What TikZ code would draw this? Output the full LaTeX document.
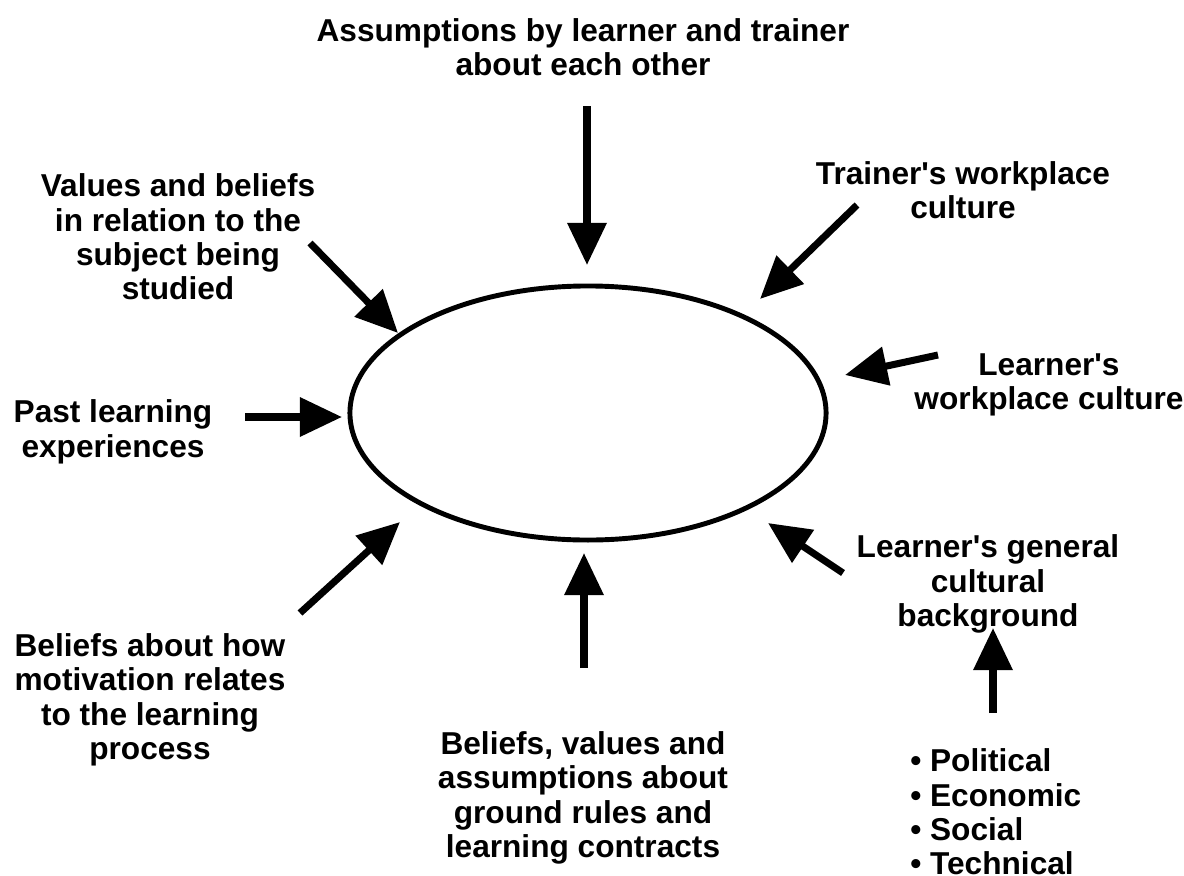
\documentclass[tikz,border=0pt]{standalone}
\usepackage{fontspec}
\setmainfont{Liberation Sans}
\usetikzlibrary{arrows.meta,shapes.geometric}

\begin{document}
\begin{tikzpicture}[x=0.025cm,y=-0.025cm,
  label text/.style={font=\bfseries\fontsize{22.5pt}{24.5pt}\selectfont, align=center, inner sep=0pt},
  push/.style={line width=5pt, -{Triangle[length=30pt,width=27pt]}},
  every node/.style={inner sep=0pt}]
\useasboundingbox (0,0) rectangle (1184,875);
\node[draw, ellipse, line width=3.5pt, minimum width=11.9cm, minimum height=6.35cm] (centre) at (588,413) {};
% the influences round the ellipse
\node[label text] (assume) at (583,47) {Assumptions by learner and trainer\\about each other};
\node[label text] (values) at (178,237) {Values and beliefs\\in relation to the\\subject being\\studied};
\node[label text] (trainer) at (963,190) {Trainer\textquotesingle s workplace\\culture};
\node[label text] (learnerwp) at (1049,385) {Learner\textquotesingle s\\workplace culture};
\node[label text] (past) at (113,432) {Past learning\\experiences};
\node[label text] (motivation) at (150,700) {Beliefs about how\\motivation relates\\to the learning\\process};
\node[label text] (ground) at (583,798) {Beliefs, values and\\assumptions about\\ground rules and\\learning contracts};
\node[label text] (general) at (988,584) {Learner\textquotesingle s general\\cultural\\background};
\node[label text, align=left, anchor=west] (factors) at (910,812) {\textbullet\ Political\\\textbullet\ Economic\\\textbullet\ Social\\\textbullet\ Technical};
% arrow ends
\coordinate (assumeT) at (587,106);   \coordinate (assumeH) at (587,265);
\coordinate (trainerT) at (857,205);  \coordinate (trainerH) at (760,299);
\coordinate (learnerT) at (938,355);  \coordinate (learnerH) at (845,375);
\coordinate (valuesT) at (310,243);   \coordinate (valuesH) at (398,333);
\coordinate (pastT) at (245,417);     \coordinate (pastH) at (342,417);
\coordinate (motivT) at (300,613);    \coordinate (motivH) at (400,522);
\coordinate (groundT) at (584,668);   \coordinate (groundH) at (584,553);
\coordinate (generalT) at (843,573);  \coordinate (generalH) at (768,523);
\coordinate (factorsT) at (993,713);  \coordinate (factorsH) at (993,628);
\draw[push] (assumeT) -- (assumeH);
\draw[push] (trainerT) -- (trainerH);
\draw[push] (learnerT) -- (learnerH);
\draw[push] (valuesT) -- (valuesH);
\draw[push] (pastT) -- (pastH);
\draw[push] (motivT) -- (motivH);
\draw[push] (groundT) -- (groundH);
\draw[push] (generalT) -- (generalH);
\draw[push] (factorsT) -- (factorsH);
\end{tikzpicture}
\end{document}
